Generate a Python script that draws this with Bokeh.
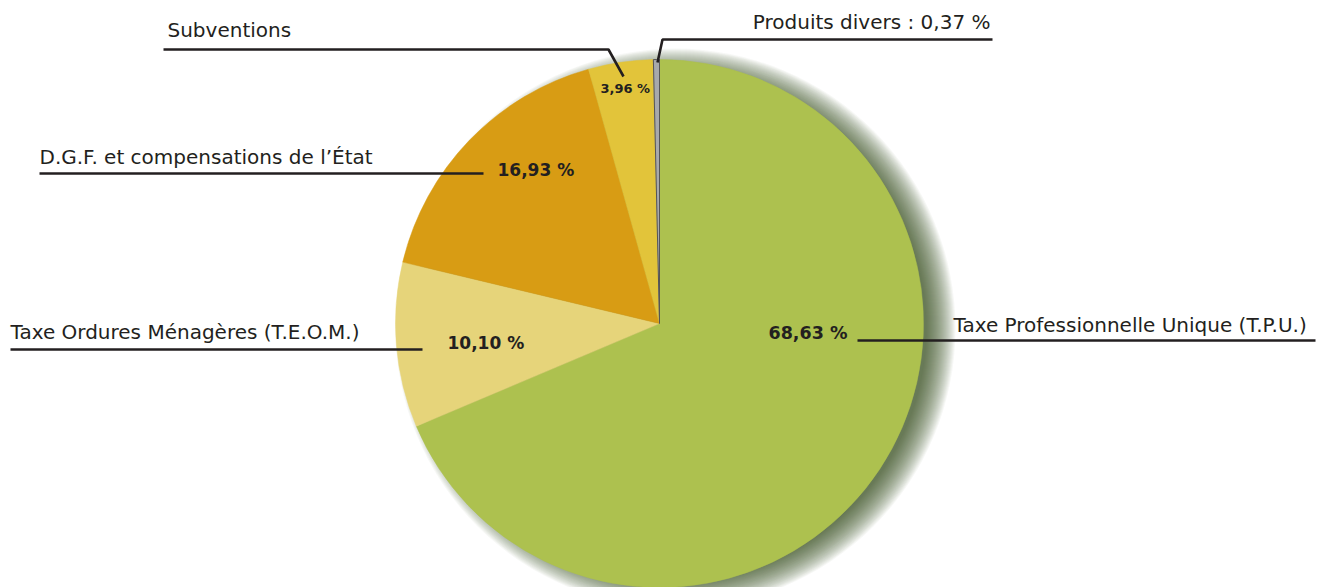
import math
from bokeh.plotting import figure
from bokeh.models import Range1d, ColumnDataSource
from bokeh.core.properties import value
from bokeh.embed import file_html
from bokeh.resources import INLINE

# ---- data ----
categories = ["Taxe Professionnelle Unique (T.P.U.)", "Taxe Ordures Ménagères (T.E.O.M.)",
              "D.G.F. et compensations de l\u2019État", "Subventions", "Produits divers"]
shares = [68.63, 10.10, 16.93, 3.96, 0.37]
colors = ["#adc14f", "#e6d47a", "#d89c14", "#e2c43a", "#a7a9ac"]

W, H = 1317, 587
PAGE_H = 587
def Y(y):  # page y (down) -> data y (up)
    return PAGE_H - y

p = figure(width=W, height=H, output_backend="svg", toolbar_location=None,
           x_range=Range1d(0, W), y_range=Range1d(PAGE_H - H, PAGE_H),
           min_border=0)
p.axis.visible = False
p.grid.visible = False
p.outline_line_color = None
p.background_fill_color = "white"

cx, cy, R = 659, Y(323), 264
FONT = value("DejaVu Sans")
TXT = "#231f20"

# shadow: stacked translucent circles offset to the right
for k in range(16, -14, -1):
    p.circle(x=[cx + 16], y=[cy - 5], radius=R + k, fill_color="#3c4322",
             fill_alpha=0.04, line_color=None)

# wedges
total = sum(shares)
starts, ends = [], []
cum = 0.0
for s in shares:
    a0 = math.pi / 2 - 2 * math.pi * cum / total
    cum += s
    a1 = math.pi / 2 - 2 * math.pi * cum / total
    starts.append(a1)
    ends.append(a0)
src = ColumnDataSource(dict(start=starts, end=ends, color=colors))
p.wedge(x=cx, y=cy, radius=R, start_angle="start", end_angle="end",
        direction="anticlock", fill_color="color", line_color="color", line_width=0.5, source=src)
# grey slice outline
p.wedge(x=cx, y=cy, radius=R, start_angle=starts[4], end_angle=ends[4],
        direction="anticlock", fill_color=colors[4], line_color="#555555", line_width=1)

def pct(v):
    return f"{v:.2f}".replace(".", ",") + " %"

# leader lines (page coordinates)
leaders = [
    [(857, 340), (1315, 340)],
    [(10, 349), (422, 349)],
    [(39, 173), (483, 173)],
    [(163, 49), (608, 49), (623, 76)],
    [(992, 39), (662, 39), (657, 62)],
]
for pts in leaders:
    p.line(x=[a for a, b in pts], y=[Y(b) for a, b in pts], line_color=TXT, line_width=2.6)

# category labels: (x, middle y, align)
label_pos = [(953, 324, "left"), (10, 331, "left"), (39, 156, "left"),
             (167, 29, "left"), (990, 21, "right")]
for i, (x, y, al) in enumerate(label_pos):
    t = categories[i] if i < 4 else categories[i] + " : " + pct(shares[i])
    p.text(x=[x], y=[Y(y)], text=[t], text_font=FONT, text_font_size="20px",
           text_color=TXT, text_align=al, text_baseline="middle")

# value labels inside slices
val_pos = [(768, 332, "17.5px"), (447, 342, "17px"), (497, 169, "17px"), (600, 88, "13px")]
for i, (x, y, fs) in enumerate(val_pos):
    p.text(x=[x], y=[Y(y)], text=[pct(shares[i])], text_font=FONT, text_font_size=fs,
           text_color=TXT, text_align="left", text_baseline="middle",
           text_font_style="bold")

open("out.html", "w").write(file_html(p, INLINE))
